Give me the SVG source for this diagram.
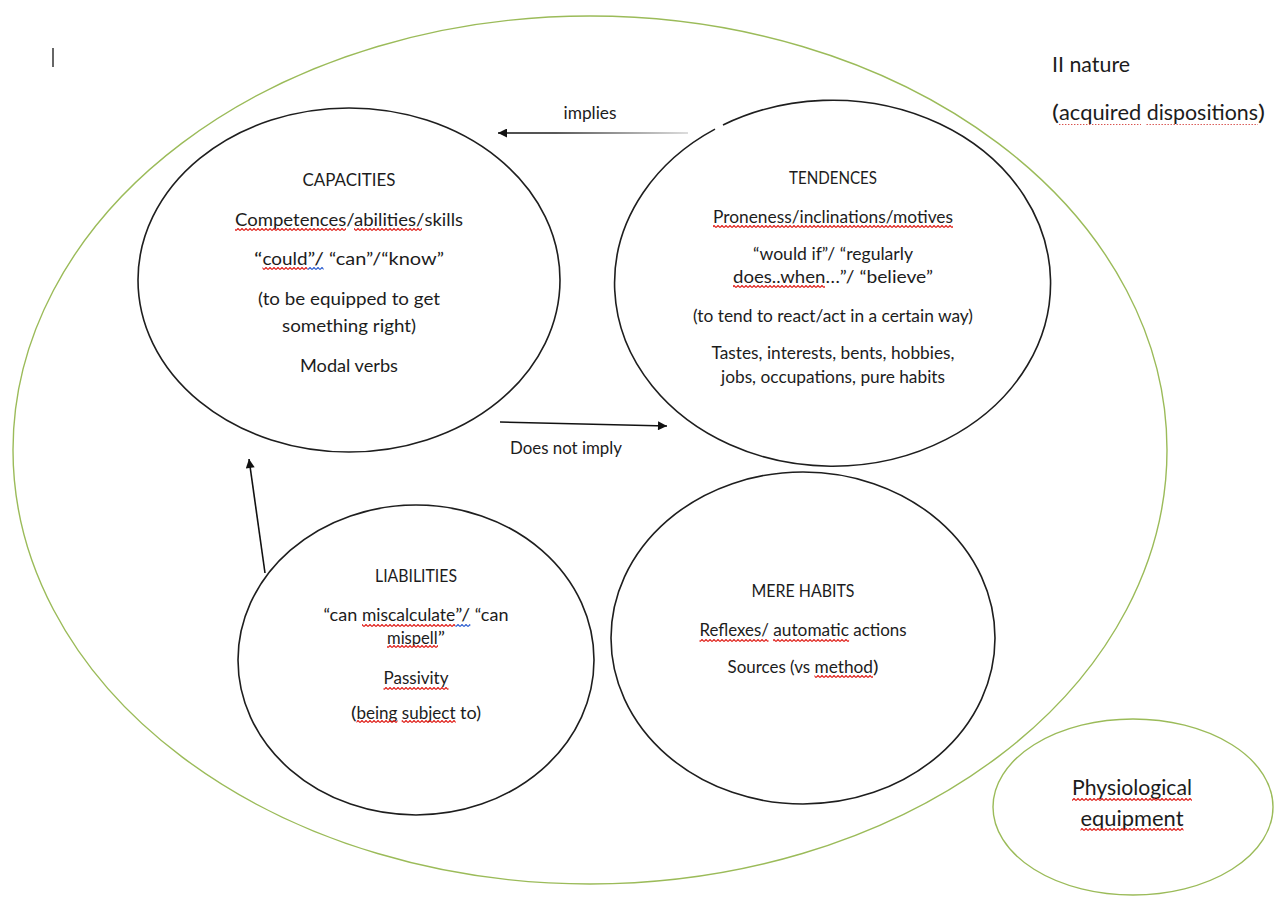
<svg xmlns="http://www.w3.org/2000/svg" width="1279" height="898" viewBox="0 0 1279 898">
<style>
  text { font-family: Lato, "Open Sans", "Liberation Sans", sans-serif; fill: #1c1c1c; }
  .b { font-size: 16.8px; text-anchor: middle; }
  .c { font-size: 18px; text-anchor: middle; }
  .big { font-size: 21px; }
  .bigc { font-size: 21px; text-anchor: middle; }
  .s { text-anchor: start; }
  .node { fill: none; stroke: #1e1e1e; stroke-width: 1.6; }
  .green { fill: none; stroke: #9bbb59; stroke-width: 1.4; }
  .edge { fill: none; stroke: #111; stroke-width: 1.6; }
  .sq { fill: url(#wave); }
  .sqb { fill: url(#waveb); }
  .dot { fill: none; stroke: #d9534f; stroke-width: 1.2; stroke-dasharray: 1.4 1.6; }
</style>
<defs>
  <marker id="ah" viewBox="0 0 10 10" refX="10" refY="5" markerWidth="12" markerHeight="9" markerUnits="userSpaceOnUse" orient="auto">
    <path d="M0,0 L10,5 L0,10 z" fill="#111"/>
  </marker>
  <linearGradient id="fade" gradientUnits="userSpaceOnUse" x1="498" y1="0" x2="690" y2="0">
    <stop offset="0" stop-color="#111"/>
    <stop offset="0.3" stop-color="#222"/>
    <stop offset="1" stop-color="#d4d4d4"/>
  </linearGradient>
  <pattern id="wave" patternUnits="userSpaceOnUse" x="0" y="0" width="4" height="3">
    <path d="M0,2.5 L2,0.5 L4,2.5" fill="none" stroke="#e0201a" stroke-width="1.2"/>
  </pattern>
  <pattern id="waveb" patternUnits="userSpaceOnUse" x="0" y="0" width="4" height="3">
    <path d="M0,2.5 L2,0.5 L4,2.5" fill="none" stroke="#2f5fd0" stroke-width="1.2"/>
  </pattern>
</defs>

<line x1="53" y1="48" x2="53" y2="67" stroke="#333" stroke-width="1.5"/>

<g id="node-nature">
  <ellipse class="green" cx="590" cy="450" rx="577" ry="434"/>
  <text class="big" x="1052" y="72" textLength="78" lengthAdjust="spacingAndGlyphs">II nature</text>
  <text class="big" y="120"><tspan x="1052" textLength="7" lengthAdjust="spacingAndGlyphs">(</tspan><tspan x="1059" textLength="82.2" lengthAdjust="spacingAndGlyphs">acquired</tspan><tspan x="1141.2" textLength="116.8" lengthAdjust="spacingAndGlyphs"> dispositions</tspan><tspan x="1258" textLength="7" lengthAdjust="spacingAndGlyphs">)</tspan></text>
  <path class="dot" d="M1059,124.5 H1141 M1146.5,124.5 H1258"/>
</g>

<g id="node-capacities">
  <ellipse class="node" cx="349" cy="280" rx="211" ry="172"/>
  <text class="c" x="349" y="186" textLength="93" lengthAdjust="spacingAndGlyphs">CAPACITIES</text>
  <text class="c s" y="226"><tspan x="235" textLength="189.5" lengthAdjust="spacingAndGlyphs">Competences/abilities/</tspan><tspan x="424.5" textLength="38.5" lengthAdjust="spacingAndGlyphs">skills</tspan></text>
  <text class="c s" y="265"><tspan x="254" textLength="8.5" lengthAdjust="spacingAndGlyphs">“</tspan><tspan x="262.5" textLength="45.1" lengthAdjust="spacingAndGlyphs">could</tspan><tspan x="307.6" textLength="16.3" lengthAdjust="spacingAndGlyphs">”/</tspan><tspan x="323.9" textLength="120.1" lengthAdjust="spacingAndGlyphs"> “can”/“know”</tspan></text>
  <text class="c" x="349" y="305" textLength="182" lengthAdjust="spacingAndGlyphs">(to be equipped to get</text>
  <text class="c" x="349" y="332" textLength="134" lengthAdjust="spacingAndGlyphs">something right)</text>
  <text class="c" x="349" y="372" textLength="98" lengthAdjust="spacingAndGlyphs">Modal verbs</text>
  <rect class="sq" x="235" y="228" width="111" height="3"/>
  <rect class="sq" x="354" y="228" width="68" height="3"/>
  <rect class="sq" x="262.5" y="267" width="45" height="3"/>
  <rect class="sqb" x="307.6" y="267" width="16" height="3"/>
</g>

<g id="node-tendences">
  <path class="node" d="M 723 125 A 218 183 0 1 1 715 129.1"/>
  <text class="b" x="833" y="184" textLength="88" lengthAdjust="spacingAndGlyphs">TENDENCES</text>
  <text class="b" x="833" y="223" textLength="240" lengthAdjust="spacingAndGlyphs">Proneness/inclinations/motives</text>
  <text class="b" x="833" y="260" textLength="160" lengthAdjust="spacingAndGlyphs">“would if”/ “regularly</text>
  <text class="b s" y="283"><tspan x="733" textLength="92.4" lengthAdjust="spacingAndGlyphs">does..when</tspan><tspan x="825.4" textLength="107.6" lengthAdjust="spacingAndGlyphs">…”/ “believe”</tspan></text>
  <text class="b" x="833" y="322" textLength="280" lengthAdjust="spacingAndGlyphs">(to tend to react/act in a certain way)</text>
  <text class="b" x="833" y="359" textLength="243" lengthAdjust="spacingAndGlyphs">Tastes, interests, bents, hobbies,</text>
  <text class="b" x="833" y="383" textLength="224" lengthAdjust="spacingAndGlyphs">jobs, occupations, pure habits</text>
  <rect class="sq" x="713" y="225" width="240" height="3"/>
  <rect class="sq" x="733" y="285" width="92" height="3"/>
</g>

<g id="node-liabilities">
  <ellipse class="node" cx="416" cy="660" rx="178" ry="155"/>
  <text class="b" x="416" y="582" textLength="82" lengthAdjust="spacingAndGlyphs">LIABILITIES</text>
  <text class="b s" y="621"><tspan x="323.5" textLength="38.4" lengthAdjust="spacingAndGlyphs">“can </tspan><tspan x="361.9" textLength="93.4" lengthAdjust="spacingAndGlyphs">miscalculate</tspan><tspan x="455.3" textLength="14.9" lengthAdjust="spacingAndGlyphs">”/</tspan><tspan x="470.2" textLength="38.3" lengthAdjust="spacingAndGlyphs"> “can</tspan></text>
  <text class="b s" y="644"><tspan x="387" textLength="50.7" lengthAdjust="spacingAndGlyphs">mispell</tspan><tspan x="437.7" textLength="7.3" lengthAdjust="spacingAndGlyphs">”</tspan></text>
  <text class="b" x="416" y="684" textLength="65" lengthAdjust="spacingAndGlyphs">Passivity</text>
  <text class="b s" y="719"><tspan x="351" textLength="5.5" lengthAdjust="spacingAndGlyphs">(</tspan><tspan x="356.5" textLength="99" lengthAdjust="spacingAndGlyphs">being subject</tspan><tspan x="455.5" textLength="25.5" lengthAdjust="spacingAndGlyphs"> to)</tspan></text>
  <rect class="sq" x="362" y="624" width="93" height="3"/>
  <rect class="sqb" x="455.3" y="624" width="15" height="3"/>
  <rect class="sq" x="387" y="645" width="51" height="3"/>
  <rect class="sq" x="383.5" y="687" width="65" height="3"/>
  <rect class="sq" x="356.5" y="720" width="41" height="3"/>
  <rect class="sq" x="401.7" y="720" width="54" height="3"/>
</g>

<g id="node-habits">
  <ellipse class="node" cx="803" cy="638" rx="192" ry="166"/>
  <text class="b" x="803" y="597" textLength="103" lengthAdjust="spacingAndGlyphs">MERE HABITS</text>
  <text class="b s" y="636"><tspan x="699.5" textLength="69.4" lengthAdjust="spacingAndGlyphs">Reflexes/</tspan><tspan x="768.9" textLength="80" lengthAdjust="spacingAndGlyphs"> automatic</tspan><tspan x="848.9" textLength="57.6" lengthAdjust="spacingAndGlyphs"> actions</tspan></text>
  <text class="b s" y="673"><tspan x="727.5" textLength="87" lengthAdjust="spacingAndGlyphs">Sources (vs </tspan><tspan x="814.5" textLength="58.5" lengthAdjust="spacingAndGlyphs">method</tspan><tspan x="873" textLength="5.5" lengthAdjust="spacingAndGlyphs">)</tspan></text>
  <rect class="sq" x="699.5" y="639" width="69" height="3"/>
  <rect class="sq" x="773.1" y="639" width="76" height="3"/>
  <rect class="sq" x="814.5" y="675" width="58.5" height="3"/>
</g>

<g id="node-physiological">
  <ellipse class="green" cx="1133" cy="807" rx="140" ry="88"/>
  <text class="bigc" x="1132" y="795" textLength="120" lengthAdjust="spacingAndGlyphs">Physiological</text>
  <text class="bigc" x="1132" y="826" textLength="103" lengthAdjust="spacingAndGlyphs">equipment</text>
  <rect class="sq" x="1072" y="798" width="120" height="3"/>
  <rect class="sq" x="1080.5" y="828" width="103" height="3"/>
</g>

<g id="connectors">
  <line x1="688" y1="133" x2="498" y2="133" stroke="url(#fade)" stroke-width="1.6" marker-end="url(#ah)"/>
  <text class="b" x="590" y="119" textLength="53" lengthAdjust="spacingAndGlyphs">implies</text>
  <line class="edge" x1="500" y1="422" x2="667" y2="426" marker-end="url(#ah)"/>
  <text class="b" x="566" y="454" textLength="112" lengthAdjust="spacingAndGlyphs">Does not imply</text>
  <line class="edge" x1="265" y1="573" x2="249" y2="459" marker-end="url(#ah)"/>
</g>
</svg>
